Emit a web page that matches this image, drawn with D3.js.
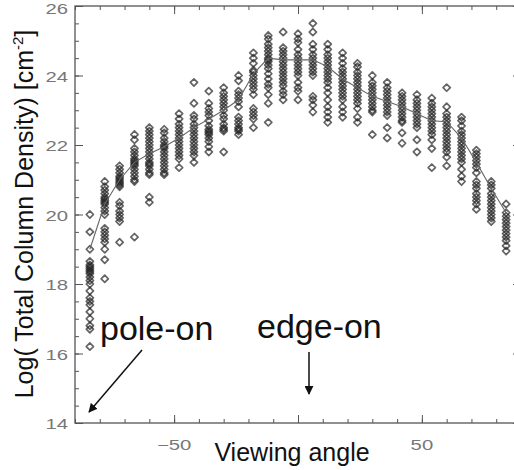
<!DOCTYPE html>
<html>
<head>
<meta charset="utf-8">
<script src="https://cdn.jsdelivr.net/npm/d3@7"></script>
<style>
  body { margin: 0; background: #fff; }
  svg { display: block; font-family: "Liberation Sans", Arial, sans-serif; }
</style>
</head>
<body>
<script>
// viewing angle of each column of models
var angles = [-84, -78, -72, -66, -60, -54, -48, -42, -36, -30, -24, -18, -12, -6, 0,
              6, 12, 18, 24, 30, 36, 42, 48, 54, 60, 66, 72, 78, 84];

// log column density of every model, one list per angle
var columnValues = [
  [20.0, 19.5, 19.0, 18.65, 18.55, 18.5, 18.45, 18.4, 18.35, 18.3, 18.2, 18.1, 18.0, 17.8, 17.6, 17.5, 17.4, 17.2, 17.0, 16.8, 16.7, 16.2],
  [20.95, 20.8, 20.7, 20.6, 20.5, 20.45, 20.4, 20.35, 20.3, 20.2, 20.1, 20.0, 19.6, 19.5, 19.4, 19.3, 19.2, 19.0, 18.7, 18.15],
  [21.4, 21.3, 21.2, 21.1, 21.05, 21.0, 20.95, 20.9, 20.85, 20.8, 20.35, 20.25, 20.1, 20.0, 19.9, 19.8, 19.2],
  [22.3, 22.15, 21.9, 21.8, 21.7, 21.6, 21.55, 21.5, 21.45, 21.4, 21.3, 21.2, 21.1, 21.0, 20.95, 19.35],
  [22.5, 22.4, 22.3, 22.2, 22.1, 22.0, 21.9, 21.8, 21.7, 21.6, 21.5, 21.45, 21.4, 21.3, 21.2, 21.15, 20.5, 20.35],
  [22.45, 22.35, 22.2, 22.1, 22.0, 21.95, 21.9, 21.8, 21.7, 21.6, 21.5, 21.4, 21.3, 21.2, 21.15],
  [22.9, 22.75, 22.6, 22.5, 22.4, 22.3, 22.2, 22.1, 22.0, 21.9, 21.8, 21.7, 21.6, 21.35],
  [23.8, 23.2, 22.85, 22.75, 22.6, 22.5, 22.4, 22.3, 22.2, 22.1, 22.0, 21.9, 21.8, 21.7, 21.5],
  [23.55, 23.2, 23.05, 22.95, 22.85, 22.7, 22.55, 22.45, 22.4, 22.35, 22.3, 22.2, 22.1, 21.95, 21.8],
  [23.65, 23.5, 23.4, 23.3, 23.2, 23.1, 23.0, 22.85, 22.75, 22.6, 22.5, 22.45, 22.4, 21.8],
  [24.0, 23.85, 23.55, 23.45, 23.35, 23.25, 23.1, 22.8, 22.7, 22.6, 22.5, 22.45, 22.4, 22.3],
  [24.65, 24.5, 24.35, 24.15, 24.1, 24.0, 23.9, 23.8, 23.7, 23.6, 23.45, 23.05, 22.95, 22.85, 22.75, 22.5],
  [25.15, 25.05, 24.9, 24.8, 24.7, 24.6, 24.5, 24.45, 24.4, 24.3, 24.2, 24.05, 23.9, 23.75, 23.65, 23.45, 23.2, 22.65],
  [25.25, 24.8, 24.7, 24.6, 24.5, 24.4, 24.3, 24.2, 24.1, 24.0, 23.9, 23.8, 23.7, 23.55, 23.45, 23.3],
  [25.2, 25.05, 24.95, 24.75, 24.6, 24.5, 24.4, 24.3, 24.2, 24.1, 24.0, 23.8, 23.65, 23.55, 23.3],
  [25.5, 25.25, 24.9, 24.75, 24.6, 24.5, 24.4, 24.3, 24.2, 24.1, 24.0, 23.4, 23.3, 23.15, 22.95],
  [24.9, 24.75, 24.6, 24.5, 24.4, 24.3, 24.2, 24.1, 24.0, 23.9, 23.8, 23.65, 23.5, 23.3, 23.1, 22.95, 22.8, 22.65],
  [24.65, 24.5, 24.35, 24.2, 24.1, 24.0, 23.9, 23.8, 23.7, 23.6, 23.5, 23.4, 23.3, 23.1, 22.95, 22.8],
  [24.35, 24.25, 24.1, 24.0, 23.9, 23.8, 23.7, 23.6, 23.5, 23.4, 23.3, 23.2, 23.05, 22.8, 22.65],
  [24.0, 23.8, 23.7, 23.6, 23.5, 23.4, 23.3, 23.2, 23.1, 23.0, 22.95, 22.3],
  [23.8, 23.65, 23.55, 23.45, 23.35, 23.25, 23.15, 23.05, 22.95, 22.85, 22.5, 22.2],
  [23.5, 23.4, 23.3, 23.2, 23.1, 23.0, 22.9, 22.8, 22.7, 22.65, 22.35, 22.05],
  [23.45, 23.3, 23.2, 23.1, 23.0, 22.9, 22.8, 22.7, 22.6, 22.5, 22.15, 21.8],
  [23.35, 23.2, 23.1, 23.0, 22.9, 22.8, 22.7, 22.6, 22.5, 22.4, 22.3, 22.15, 21.9, 21.35],
  [23.65, 23.1, 22.9, 22.8, 22.7, 22.6, 22.5, 22.4, 22.3, 22.2, 22.1, 22.0, 21.9, 21.8, 21.65, 21.4],
  [22.8, 22.7, 22.55, 22.4, 22.3, 22.2, 22.1, 22.0, 21.9, 21.8, 21.7, 21.6, 21.5, 21.3, 21.1, 20.95],
  [21.85, 21.75, 21.65, 21.55, 21.45, 21.35, 21.2, 20.95, 20.85, 20.75, 20.6, 20.5, 20.4, 20.3, 20.15],
  [20.95, 20.85, 20.75, 20.6, 20.5, 20.4, 20.3, 20.2, 20.1, 20.0, 19.9, 19.8],
  [20.3, 20.05, 19.95, 19.85, 19.75, 19.65, 19.55, 19.45, 19.35, 19.25, 19.1, 18.95]
];

// median curve drawn through the columns
var medians = [19.0, 20.3, 21.0, 21.5, 21.75, 21.95, 22.2, 22.5, 22.75, 23.0, 23.3, 24.05, 24.5, 24.45, 24.45,
               24.45, 24.25, 23.9, 23.65, 23.4, 23.25, 23.1, 22.9, 22.7, 22.67, 22.2, 21.5, 20.75, 20.05];

var xMajor = [-50, 0, 50];
var xLabels = [-50, 50];
var yMajor = [14, 16, 18, 20, 22, 24, 26];

var W = 514, H = 470;
//plot box; right edge falls just outside the picture like the original
var box = {left: 75, right: 521, top: 6, bottom: 423};

var svg = d3.select("body").append("svg").attr("width", W).attr("height", H);

var x = d3.scaleLinear().domain([-90, 90]).range([box.left, box.right]);
var y = d3.scaleLinear().domain([14, 26]).range([box.bottom, box.top]);

var axisColor = "#555";

//ticks: minor first then major, on all four sides
var xMinor = d3.range(-90, 91, 10);
var yMinor = d3.range(14, 26.01, 0.5);

function tickGroup(axis, tx, ty) {
  var g = svg.append("g").attr("transform", "translate(" + tx + "," + ty + ")").call(axis);
  g.selectAll("text").remove();
  g.select(".domain").remove();
  g.selectAll("line").attr("stroke", axisColor).attr("stroke-width", 1);
  return g;
}
tickGroup(d3.axisBottom(x).tickValues(xMinor).tickSize(-4), 0, box.bottom);
tickGroup(d3.axisBottom(x).tickValues(xMajor).tickSize(-8), 0, box.bottom);
tickGroup(d3.axisTop(x).tickValues(xMinor).tickSize(-4), 0, box.top);
tickGroup(d3.axisTop(x).tickValues(xMajor).tickSize(-8), 0, box.top);
tickGroup(d3.axisLeft(y).tickValues(yMinor).tickSize(-4), box.left, 0);
tickGroup(d3.axisLeft(y).tickValues(yMajor).tickSize(-8), box.left, 0);
tickGroup(d3.axisRight(y).tickValues(yMinor).tickSize(-4), box.right, 0);
tickGroup(d3.axisRight(y).tickValues(yMajor).tickSize(-8), box.right, 0);

svg.append("rect")
  .attr("x", box.left).attr("y", box.top)
  .attr("width", box.right - box.left).attr("height", box.bottom - box.top)
  .attr("fill", "none").attr("stroke", axisColor).attr("stroke-width", 1.3);

// tick labels, horizontally stretched like the original IDL font
svg.selectAll(".ylab").data(yMajor).enter().append("text")
  .attr("class", "ylab")
  .attr("transform", function(d) { return "translate(68," + (Math.max(y(d), 8) + 6) + ") scale(1.45,1)"; })
  .attr("text-anchor", "end")
  .attr("font-size", 14)
  .attr("fill", "#777")
  .text(function(d) { return d; });

svg.selectAll(".xlab").data(xLabels).enter().append("text")
  .attr("class", "xlab")
  .attr("transform", function(d) { return "translate(" + x(d) + ",450) scale(1.45,1)"; })
  .attr("text-anchor", "middle")
  .attr("font-size", 14)
  .attr("fill", "#777")
  .text(d3.format("d"));

// scatter of diamonds
var points = [];
angles.forEach(function(a, i) {
  columnValues[i].forEach(function(v) { points.push({a: a, v: v}); });
});

var diamond = "M0,-3.6L3.6,0L0,3.6L-3.6,0Z";
svg.append("g").selectAll("path").data(points).enter().append("path")
  .attr("d", diamond)
  .attr("transform", function(d) { return "translate(" + x(d.a) + "," + y(d.v) + ")"; })
  .attr("fill", "none")
  .attr("stroke", "#222")
  .attr("stroke-opacity", 0.7)
  .attr("stroke-linejoin", "round")
  .attr("stroke-width", 1.7);

// median line
var line = d3.line()
  .x(function(d, i) { return x(angles[i]); })
  .y(function(d) { return y(d); });
svg.append("path")
  .datum(medians)
  .attr("d", line)
  .attr("fill", "none")
  .attr("stroke", "#666")
  .attr("stroke-width", 1.1);

// axis titles
svg.append("text")
  .attr("x", 292).attr("y", 461)
  .attr("text-anchor", "middle")
  .attr("font-size", 25)
  .attr("fill", "#111")
  .text("Viewing angle");

var ytitle = svg.append("text")
  .attr("transform", "translate(33,214) rotate(-90)")
  .attr("text-anchor", "middle")
  .attr("font-size", 25)
  .attr("fill", "#111");
ytitle.append("tspan").text("Log( Total Column Density) [cm");
ytitle.append("tspan").attr("font-size", 15).attr("dy", -10).text("-2");
ytitle.append("tspan").attr("dy", 10).text("]");

// annotations
var defs = svg.append("defs");
defs.append("marker")
  .attr("id", "head")
  .attr("viewBox", "0 0 10 10")
  .attr("refX", 9).attr("refY", 5)
  .attr("markerWidth", 9).attr("markerHeight", 9)
  .attr("markerUnits", "userSpaceOnUse")
  .attr("orient", "auto")
  .append("path").attr("d", "M0,0L10,5L0,10Z").attr("fill", "#111");

svg.append("text")
  .attr("x", 100).attr("y", 340)
  .attr("font-size", 34)
  .attr("fill", "#111")
  .text("pole-on");
svg.append("text")
  .attr("x", 257).attr("y", 338)
  .attr("font-size", 34)
  .attr("fill", "#111")
  .text("edge-on");

svg.append("line")
  .attr("x1", 142).attr("y1", 350).attr("x2", 89).attr("y2", 412)
  .attr("stroke", "#111").attr("stroke-width", 1.5)
  .attr("marker-end", "url(#head)");
svg.append("line")
  .attr("x1", 309).attr("y1", 352).attr("x2", 309).attr("y2", 394)
  .attr("stroke", "#111").attr("stroke-width", 1.5)
  .attr("marker-end", "url(#head)");
</script>
</body>
</html>
